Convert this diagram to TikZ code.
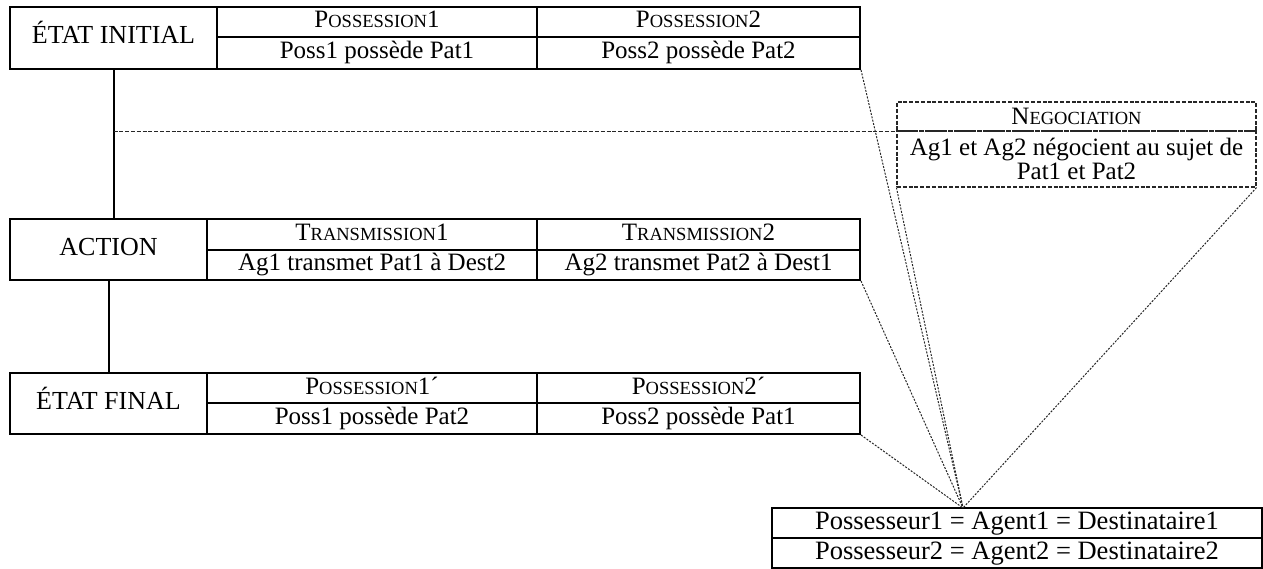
\documentclass[tikz,border=0pt]{standalone}
\usepackage{fontspec}
\setmainfont{Liberation Serif}
\newcommand{\smc}[1]{{\fontsize{18.5}{18.5}\selectfont #1}}
\begin{document}
\begin{tikzpicture}[x=1pt,y=-1pt,
  cell/.style={draw, line width=2pt, inner sep=0pt, anchor=center,
    font=\fontsize{25}{27}\selectfont, text height=17pt, text depth=5pt},
  capcell/.style={cell, font=\fontsize{26}{28}\selectfont},
  eqcell/.style={cell, font=\fontsize{26.5}{28}\selectfont},
  negcell/.style={draw=black!85, line width=1.1pt, dash pattern=on 4pt off 1.8pt,
    inner sep=0pt, anchor=center, font=\fontsize{25}{27}\selectfont, align=center},
  stem/.style={line width=2pt},
  guide/.style={draw=black!85, line width=1.1pt, dash pattern=on 4pt off 1.8pt},
  conn/.style={draw=black!85, line width=1pt, dash pattern=on 2pt off 1.4pt}]
\useasboundingbox (0,0) rectangle (1263,569);

% top table
\node[capcell, minimum width=207pt, minimum height=62pt] (ei) at (113.5,38) {ÉTAT INITIAL};
\node[cell, minimum width=320pt, minimum height=30pt] (p1h) at (377,22) {P\smc{OSSESSION}1};
\node[cell, minimum width=320pt, minimum height=32pt] (p1b) at (377,53) {Poss1 possède Pat1};
\node[cell, minimum width=323pt, minimum height=30pt] (p2h) at (698.5,22) {P\smc{OSSESSION}2};
\node[cell, minimum width=323pt, minimum height=32pt] (p2b) at (698.5,53) {Poss2 possède Pat2};

% action table
\node[capcell, minimum width=197pt, minimum height=61pt] (act) at (108.5,249.5) {ACTION};
\node[cell, minimum width=330pt, minimum height=31pt] (t1h) at (372,234.5) {T\smc{RANSMISSION}1};
\node[cell, minimum width=330pt, minimum height=30pt] (t1b) at (372,265) {Ag1 transmet Pat1 à Dest2};
\node[cell, minimum width=323pt, minimum height=31pt] (t2h) at (698.5,234.5) {T\smc{RANSMISSION}2};
\node[cell, minimum width=323pt, minimum height=30pt] (t2b) at (698.5,265) {Ag2 transmet Pat2 à Dest1};

% final table
\node[capcell, minimum width=197pt, minimum height=61pt] (fin) at (108.5,403.5) {ÉTAT FINAL};
\node[cell, minimum width=330pt, minimum height=30pt] (f1h) at (372,388) {P\smc{OSSESSION}1´};
\node[cell, minimum width=330pt, minimum height=31pt] (f1b) at (372,418.5) {Poss1 possède Pat2};
\node[cell, minimum width=323pt, minimum height=30pt] (f2h) at (698.5,388) {P\smc{OSSESSION}2´};
\node[cell, minimum width=323pt, minimum height=31pt] (f2b) at (698.5,418.5) {Poss2 possède Pat1};

% negociation box
\node[negcell, minimum width=359pt, minimum height=29pt] (ngh) at (1076.5,116.5) {N\smc{EGOCIATION}};
\node[negcell, minimum width=359pt, minimum height=56pt] (ngb) at (1076.5,159) {Ag1 et Ag2 négocient au sujet de\\[-3pt]Pat1 et Pat2};

% bottom box
\node[eqcell, minimum width=490pt, minimum height=30pt] (r1) at (1017,523) {Possesseur1 = Agent1 = Destinataire1};
\node[eqcell, minimum width=490pt, minimum height=30pt] (r2) at (1017,553) {Possesseur2 = Agent2 = Destinataire2};

% stems
\coordinate (s1) at (ei.south |- act.north);
\draw[stem] (ei.south) -- (s1);
\draw[stem] (act.south) -- (fin.north);
\coordinate (g0) at (ei.south |- ngh.south);
\draw[guide] (g0) -- (ngh.south west);

% connectors
\coordinate (conv) at (963,508);
\draw[conn] (p2b.south east) -- (conv);
\draw[conn] (ngb.south west) -- (conv);
\draw[conn] (ngb.south east) -- (conv);
\draw[conn] (t2b.south east) -- (conv);
\draw[conn] (f2b.south east) -- (conv);
\end{tikzpicture}
\end{document}
